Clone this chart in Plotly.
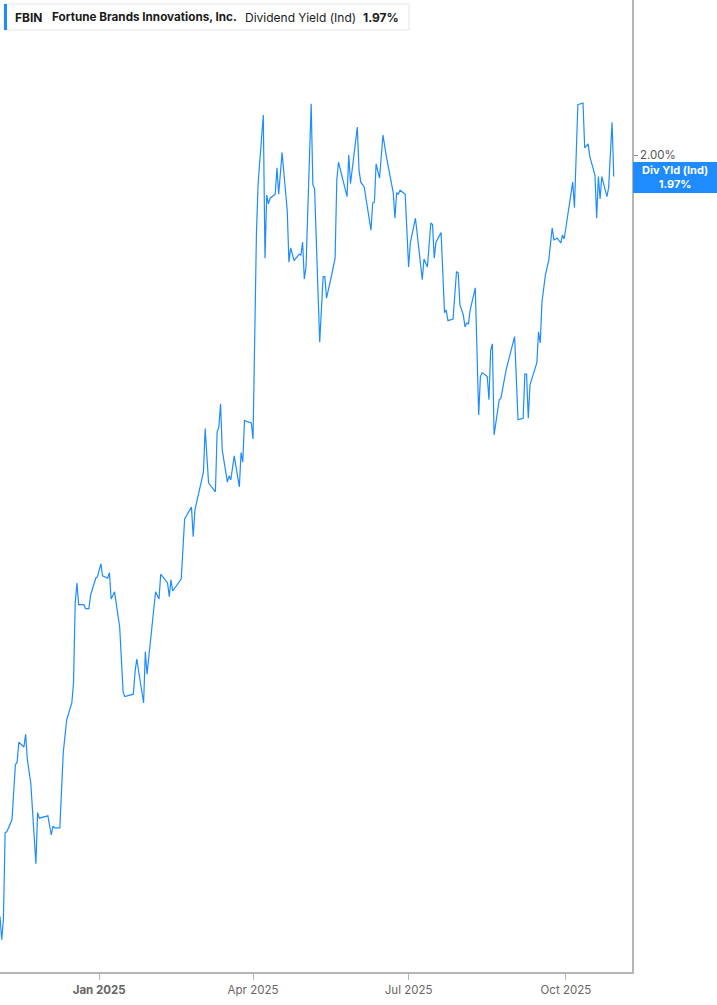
import plotly.graph_objects as go

dates = [
    "2024-11-04", "2024-11-05", "2024-11-06", "2024-11-07", "2024-11-08", "2024-11-11", "2024-11-13", "2024-11-14",
    "2024-11-15", "2024-11-18", "2024-11-19", "2024-11-20", "2024-11-22", "2024-11-25", "2024-11-26", "2024-11-27",
    "2024-12-02", "2024-12-04", "2024-12-05", "2024-12-06", "2024-12-09", "2024-12-11", "2024-12-13", "2024-12-16",
    "2024-12-17", "2024-12-18", "2024-12-19", "2024-12-20", "2024-12-23", "2024-12-24", "2024-12-26", "2024-12-27",
    "2024-12-30", "2024-12-31", "2025-01-02", "2025-01-03", "2025-01-06", "2025-01-07", "2025-01-08", "2025-01-10",
    "2025-01-13", "2025-01-15", "2025-01-16", "2025-01-21", "2025-01-22", "2025-01-23", "2025-01-27", "2025-01-28",
    "2025-01-29", "2025-02-03", "2025-02-05", "2025-02-06", "2025-02-10", "2025-02-11", "2025-02-12", "2025-02-13",
    "2025-02-18", "2025-02-19", "2025-02-20", "2025-02-24", "2025-02-25", "2025-02-26", "2025-03-03", "2025-03-04",
    "2025-03-05", "2025-03-06", "2025-03-10", "2025-03-11", "2025-03-12", "2025-03-13", "2025-03-14", "2025-03-17",
    "2025-03-18", "2025-03-19", "2025-03-21", "2025-03-24", "2025-03-25", "2025-03-26", "2025-03-27", "2025-03-31",
    "2025-04-01", "2025-04-03", "2025-04-04", "2025-04-07", "2025-04-08", "2025-04-09", "2025-04-10", "2025-04-11",
    "2025-04-14", "2025-04-15", "2025-04-16", "2025-04-18", "2025-04-21", "2025-04-22", "2025-04-23", "2025-04-25",
    "2025-04-28", "2025-04-29", "2025-04-30", "2025-05-01", "2025-05-02", "2025-05-05", "2025-05-06", "2025-05-07",
    "2025-05-10", "2025-05-12", "2025-05-13", "2025-05-14", "2025-05-17", "2025-05-19", "2025-05-20", "2025-05-21",
    "2025-05-26", "2025-05-27", "2025-05-28", "2025-06-01", "2025-06-02", "2025-06-03", "2025-06-05", "2025-06-07",
    "2025-06-09", "2025-06-10", "2025-06-11", "2025-06-12", "2025-06-14", "2025-06-16", "2025-06-18", "2025-06-22",
    "2025-06-23", "2025-06-24", "2025-06-25", "2025-06-26", "2025-06-29", "2025-07-01", "2025-07-02", "2025-07-05",
    "2025-07-09", "2025-07-10", "2025-07-12", "2025-07-14", "2025-07-15", "2025-07-16", "2025-07-17", "2025-07-20",
    "2025-07-22", "2025-07-23", "2025-07-24", "2025-07-27", "2025-07-29", "2025-07-30", "2025-07-31", "2025-08-02",
    "2025-08-03", "2025-08-04", "2025-08-05", "2025-08-06", "2025-08-09", "2025-08-11", "2025-08-12", "2025-08-13",
    "2025-08-16", "2025-08-17", "2025-08-18", "2025-08-19", "2025-08-20", "2025-08-23", "2025-08-24", "2025-08-27",
    "2025-09-01", "2025-09-03", "2025-09-06", "2025-09-07", "2025-09-08", "2025-09-09", "2025-09-10", "2025-09-14",
    "2025-09-15", "2025-09-16", "2025-09-17", "2025-09-19", "2025-09-21", "2025-09-23", "2025-09-24", "2025-09-26",
    "2025-09-28", "2025-09-29", "2025-09-30", "2025-10-05", "2025-10-06", "2025-10-08", "2025-10-11", "2025-10-12",
    "2025-10-14", "2025-10-15", "2025-10-18", "2025-10-19", "2025-10-20", "2025-10-21", "2025-10-22", "2025-10-25",
    "2025-10-26", "2025-10-28", "2025-10-29",
]

div_yield = [
    1.048, 1.019, 1.044, 1.153, 1.154, 1.169, 1.238, 1.241,
    1.266, 1.260, 1.276, 1.244, 1.215, 1.114, 1.178, 1.171,
    1.174, 1.150, 1.161, 1.159, 1.159, 1.253, 1.294, 1.315,
    1.340, 1.440, 1.465, 1.438, 1.438, 1.433, 1.433, 1.450,
    1.471, 1.473, 1.489, 1.474, 1.471, 1.478, 1.445, 1.454,
    1.410, 1.329, 1.323, 1.326, 1.354, 1.370, 1.315, 1.379,
    1.351, 1.454, 1.445, 1.476, 1.465, 1.448, 1.469, 1.455,
    1.470, 1.504, 1.545, 1.560, 1.523, 1.556, 1.604, 1.658,
    1.623, 1.590, 1.579, 1.654, 1.660, 1.689, 1.631, 1.591,
    1.599, 1.594, 1.624, 1.585, 1.628, 1.616, 1.668, 1.665,
    1.645, 1.903, 1.965, 2.050, 1.871, 1.950, 1.939, 1.946,
    1.951, 1.984, 1.951, 2.003, 1.931, 1.866, 1.884, 1.868,
    1.876, 1.875, 1.891, 1.845, 1.860, 2.064, 1.963, 1.958,
    1.766, 1.848, 1.848, 1.821, 1.850, 1.871, 1.969, 1.991,
    1.948, 2.000, 1.964, 2.035, 1.981, 1.966, 1.960, 1.935,
    1.906, 1.940, 1.941, 1.989, 1.971, 2.025, 1.998, 1.953,
    1.921, 1.953, 1.951, 1.956, 1.951, 1.860, 1.890, 1.921,
    1.844, 1.870, 1.860, 1.915, 1.913, 1.871, 1.891, 1.903,
    1.803, 1.806, 1.793, 1.795, 1.854, 1.853, 1.813, 1.800,
    1.785, 1.790, 1.789, 1.806, 1.834, 1.675, 1.723, 1.728,
    1.723, 1.694, 1.756, 1.764, 1.650, 1.694, 1.696, 1.731,
    1.773, 1.669, 1.671, 1.726, 1.726, 1.671, 1.713, 1.740,
    1.779, 1.765, 1.816, 1.850, 1.869, 1.909, 1.894, 1.896,
    1.890, 1.900, 1.895, 1.966, 1.934, 2.063, 2.065, 2.009,
    2.014, 1.998, 1.975, 1.921, 1.973, 1.945, 1.973, 1.948,
    1.959, 2.041, 1.973,
]

x_tick_vals = ["2025-01-01", "2025-04-01", "2025-07-01", "2025-10-01"]
x_tick_text = ["<b>Jan 2025</b>", "Apr 2025", "Jul 2025", "Oct 2025"]
y_tick_vals = [2.0]
y_tick_text = ["2.00%"]

ticker = "FBIN"
company = "Fortune Brands Innovations, Inc."
metric = "Dividend Yield (Ind)"
last_label = "Div Yld (Ind)"
last_value_text = "1.97%"

BLUE = "#1e8cff"
W, H = 717, 1005
ML, MR, MT, MB = 0, 85, 0, 33
PW, PH = W - ML - MR, H - MT - MB


def px(xp):
    return (xp - ML) / PW


def py(yp):
    return 1 - (yp - MT) / PH


fig = go.Figure()
fig.add_trace(go.Scatter(
    x=dates, y=div_yield, mode="lines",
    line=dict(color=BLUE, width=1.2),
    hoverinfo="skip", showlegend=False,
))

font_family = "Inter, Roboto, sans-serif"

fig.update_layout(
    width=W, height=H,
    margin=dict(l=ML, r=MR, t=MT, b=MB),
    paper_bgcolor="white", plot_bgcolor="white",
    showlegend=False,
    font=dict(family=font_family),
    xaxis=dict(
        type="date",
        range=["2024-11-04", "2025-11-08 16:00"],
        tickvals=x_tick_vals, ticktext=x_tick_text,
        showgrid=False, zeroline=False,
        showline=True, linecolor="#b5b5b5", linewidth=1.5,
        ticks="outside", ticklen=6, tickcolor="#b5b5b5", tickwidth=1,
        tickfont=dict(size=11.5, color="#666666", family=font_family),
    ),
    yaxis=dict(
        side="right",
        range=[2.19375 - 0.00125 * PH, 2.19375],
        tickvals=y_tick_vals, ticktext=y_tick_text,
        showgrid=False, zeroline=False,
        showline=True, linecolor="#b5b5b5", linewidth=1.5,
        ticks="outside", ticklen=4, tickcolor="#888888",
        tickfont=dict(size=11.5, color="#555555", family=font_family),
    ),
)

# Header box
fig.add_shape(type="rect", xref="paper", yref="paper",
              x0=px(4), x1=px(409), y0=py(30), y1=py(4),
              line=dict(color="#e6e6e6", width=1), fillcolor="white", layer="above")
fig.add_shape(type="rect", xref="paper", yref="paper",
              x0=px(4), x1=px(7), y0=py(30), y1=py(4),
              line=dict(width=0), fillcolor=BLUE, layer="above")

header_items = [
    (13, "<b>" + ticker + "</b>", 12),
    (50, "<b>" + company + "</b>", 11.7),
    (243, metric, 12),
    (361, "<b>" + last_value_text + "</b>", 12),
]
for xp, txt, fs in header_items:
    fig.add_annotation(xref="paper", yref="paper", x=px(xp), y=py(17),
                       xanchor="left", yanchor="middle", showarrow=False,
                       text=txt, font=dict(size=fs, color="#1a1a1a", family=font_family))

# Last value label box
fig.add_shape(type="rect", xref="paper", yref="paper",
              x0=px(633), x1=px(717), y0=py(193), y1=py(162),
              line=dict(width=0), fillcolor=BLUE, layer="above")
fig.add_annotation(xref="paper", yref="paper", x=px(675), y=py(177.5),
                   xanchor="center", yanchor="middle", showarrow=False,
                   text="<b>" + last_label + "</b><br><b>" + last_value_text + "</b>",
                   font=dict(size=11, color="white", family=font_family))

fig.write_html(
    "out.html",
    config={"displayModeBar": False},
    post_script="document.body.style.margin='0';document.body.style.overflow='hidden';",
)
